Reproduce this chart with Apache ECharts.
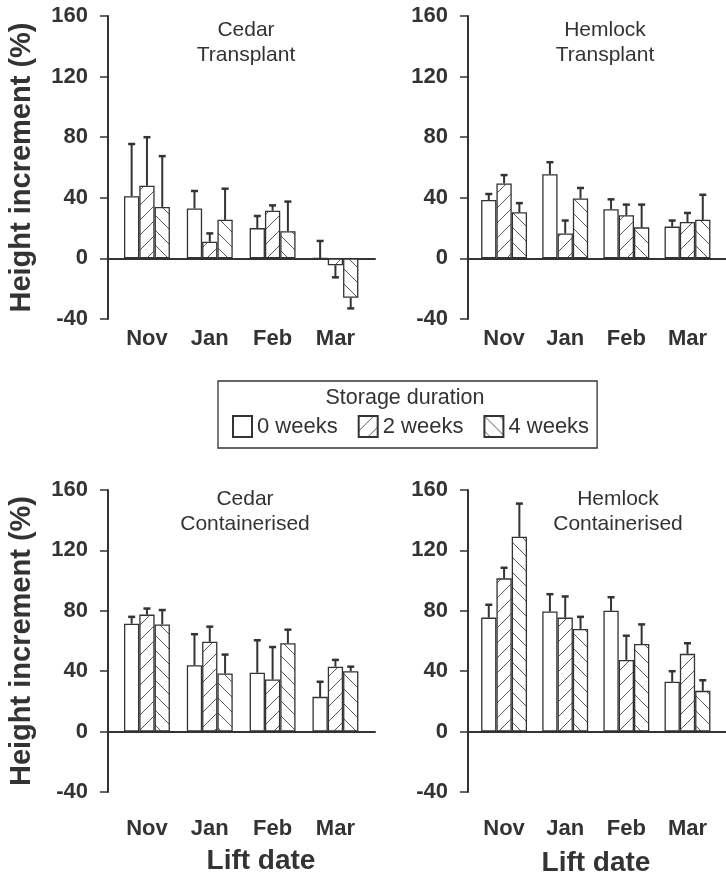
<!DOCTYPE html>
<html>
<head>
<meta charset="utf-8">
<script src="https://cdn.jsdelivr.net/npm/echarts@6/dist/echarts.min.js"></script>
<style>
  html, body { margin: 0; padding: 0; background: #fff; }
  #chart { width: 726px; height: 878px; }
</style>
</head>
<body>
<div id="chart"></div>
<script>
// Lift dates (categories) and storage durations (series)
const months = ['Nov', 'Jan', 'Feb', 'Mar'];
const durations = ['0 weeks', '2 weeks', '4 weeks'];

// Value axis: -40 .. 160 in steps of 40
const yMin = -40;
const yMax = 160;
const yStep = 40;

// Mean height increment (%), one row per storage duration (0, 2, 4 weeks)
const cedarTransplantMean = [
  [41, 33, 20, 0],
  [48, 11, 31.5, -4.5],
  [34, 25.5, 18, -26]
];
// End of the error bar (mean + SE, or mean - SE for negative bars)
const cedarTransplantErr = [
  [75.5, 44.5, 28, 11.5],
  [80, 16.5, 35, -12.5],
  [67.5, 46, 37.5, -33]
];

const hemlockTransplantMean = [
  [38.5, 55.5, 32.5, 21],
  [49.5, 16.5, 28.5, 24],
  [30.5, 39.5, 20.5, 25.5]
];
const hemlockTransplantErr = [
  [42.5, 63.5, 39, 25],
  [55, 25, 35.5, 30],
  [36.5, 46.5, 35.5, 42]
];

const cedarContainerMean = [
  [71.5, 44, 39, 23],
  [77.5, 59.5, 34.5, 43],
  [71, 38.5, 58.5, 40]
];
const cedarContainerErr = [
  [76, 64.5, 60.5, 33],
  [81.5, 69.5, 56, 47.5],
  [80.5, 51, 67.5, 43]
];

const hemlockContainerMean = [
  [75.5, 79.5, 80, 33],
  [101.5, 75.5, 47.5, 51.5],
  [129, 68, 58, 27]
];
const hemlockContainerErr = [
  [84, 91, 89, 40],
  [108.5, 89.5, 63.5, 58.5],
  [151, 76, 71, 34]
];

const panelTitles = ['Cedar\nTransplant', 'Hemlock\nTransplant', 'Cedar\nContainerised', 'Hemlock\nContainerised'];
const panelMeans = [cedarTransplantMean, hemlockTransplantMean, cedarContainerMean, hemlockContainerMean];
const panelErrs = [cedarTransplantErr, hemlockTransplantErr, cedarContainerErr, hemlockContainerErr];

// ---- presentation ----
const FONT = "'Liberation Sans', Arial, Helvetica, sans-serif";
const INK = '#333';
const BAR_W = 15.3;

const frames = [
  { left: 108, top: 16,  width: 267, height: 303, xMin: -0.62, xMax: 3.63, labelMargin: 9,  yName: true,  tx: 246, ty: 43 },
  { left: 468, top: 16,  width: 265, height: 303, xMin: -0.59, xMax: 3.63, labelMargin: 9,  yName: false, tx: 605, ty: 43 },
  { left: 108, top: 490, width: 267, height: 302, xMin: -0.62, xMax: 3.63, labelMargin: 26, yName: true,  tx: 245, ty: 512 },
  { left: 468, top: 490, width: 265, height: 302, xMin: -0.59, xMax: 3.63, labelMargin: 26, yName: false, tx: 618, ty: 512 }
];

// Hatch fills: plain, "/" lines, "\" lines
function hatch(dir) {
  const s = 15;
  const c = document.createElement('canvas');
  c.width = s; c.height = s;
  const g = c.getContext('2d');
  g.fillStyle = '#fff';
  g.fillRect(0, 0, s, s);
  g.strokeStyle = '#5a5a5a';
  g.lineWidth = 1;
  g.beginPath();
  if (dir > 0) { g.moveTo(-1, s + 1); g.lineTo(s + 1, -1); }
  else { g.moveTo(-1, -1); g.lineTo(s + 1, s + 1); }
  g.stroke();
  return c;
}
const fills = ['#ffffff', { image: hatch(1), repeat: 'repeat' }, { image: hatch(-1), repeat: 'repeat' }];

function errorBars(k) {
  return function (params, api) {
    const x = api.value(0), v = api.value(1), e = api.value(2);
    const a = api.coord([x, v]);
    const b = api.coord([x, e]);
    const cx = a[0] + (k - 1) * BAR_W;
    const st = { stroke: INK, lineWidth: 2 };
    return {
      type: 'group',
      children: [
        { type: 'line', shape: { x1: cx, y1: a[1], x2: cx, y2: b[1] }, style: st },
        { type: 'line', shape: { x1: cx - 3.5, y1: b[1], x2: cx + 3.5, y2: b[1] }, style: { stroke: INK, lineWidth: 2.5 } }
      ]
    };
  };
}

const grid = [], xAxis = [], yAxis = [], series = [], graphic = [];

frames.forEach((f, i) => {
  grid.push({ left: f.left, top: f.top, width: f.width, height: f.height, containLabel: false });

  // zero line
  xAxis.push({
    type: 'value', gridIndex: i, min: f.xMin, max: f.xMax, position: 'top',
    axisLine: { show: true, onZero: true, lineStyle: { color: INK, width: 2 } },
    axisTick: { show: false }, axisLabel: { show: false }, splitLine: { show: false }
  });
  // lift-date labels
  xAxis.push({
    type: 'value', gridIndex: i, min: f.xMin, max: f.xMax, position: 'bottom',
    axisLine: { show: false, onZero: false }, axisTick: { show: false }, splitLine: { show: false },
    axisLabel: {
      show: true, customValues: months.map((m, j) => j), margin: f.labelMargin,
      formatter: v => months[Math.round(v)] || '',
      fontFamily: FONT, fontSize: 22, fontWeight: 'bold', color: INK
    }
  });

  yAxis.push({
    type: 'value', gridIndex: i, min: yMin, max: yMax, interval: yStep, position: 'left',
    name: f.yName ? 'Height increment (%)' : '',
    nameLocation: 'middle', nameGap: 72,
    nameTextStyle: { fontFamily: FONT, fontSize: 29, fontWeight: 'bold', color: INK },
    axisLine: { show: true, onZero: false, lineStyle: { color: INK, width: 2 } },
    axisTick: { show: true, length: 8, lineStyle: { color: INK, width: 1.5 } },
    axisLabel: { margin: 20, fontFamily: FONT, fontSize: 22, fontWeight: 'bold', color: INK },
    splitLine: { show: false }
  });

  const mean = panelMeans[i], err = panelErrs[i];
  for (let k = 0; k < 3; k++) {
    series.push({
      type: 'bar', name: durations[k], xAxisIndex: 2 * i, yAxisIndex: i,
      barWidth: BAR_W, barGap: '0%',
      data: months.map((m, j) => [j, mean[k][j]]),
      itemStyle: { color: fills[k], borderColor: INK, borderWidth: 1.3 },
      emphasis: { disabled: true }, z: 2
    });
  }
  for (let k = 0; k < 3; k++) {
    series.push({
      type: 'custom', xAxisIndex: 2 * i, yAxisIndex: i, silent: true, z: 3,
      data: months.map((m, j) => [j, mean[k][j], err[k][j]]),
      renderItem: errorBars(k)
    });
  }

  graphic.push({
    type: 'text', x: f.tx, y: f.ty,
    style: { text: panelTitles[i], font: `21px ${FONT}`, fill: INK, align: 'center', verticalAlign: 'middle', lineHeight: 25 }
  });
});

graphic.push(
  { type: 'text', x: 405, y: 398, style: { text: 'Storage duration', font: `21.5px ${FONT}`, fill: INK, align: 'center', verticalAlign: 'middle' } },
  { type: 'text', x: 261, y: 861, style: { text: 'Lift date', font: `bold 28px ${FONT}`, fill: INK, align: 'center', verticalAlign: 'middle' } },
  { type: 'text', x: 596, y: 863, style: { text: 'Lift date', font: `bold 28px ${FONT}`, fill: INK, align: 'center', verticalAlign: 'middle' } }
);

const chart = echarts.init(document.getElementById('chart'), null, { renderer: 'canvas' });
chart.setOption({
  animation: false,
  backgroundColor: '#fff',
  grid, xAxis, yAxis, series, graphic,
  legend: {
    data: durations, left: 218, top: 381, orient: 'horizontal',
    padding: [34, 8, 10, 14], itemWidth: 19, itemHeight: 21, itemGap: 20, icon: 'rect',
    borderColor: INK, borderWidth: 1.3, selectedMode: false,
    textStyle: { fontFamily: FONT, fontSize: 22, color: INK }
  }
});
</script>
</body>
</html>
